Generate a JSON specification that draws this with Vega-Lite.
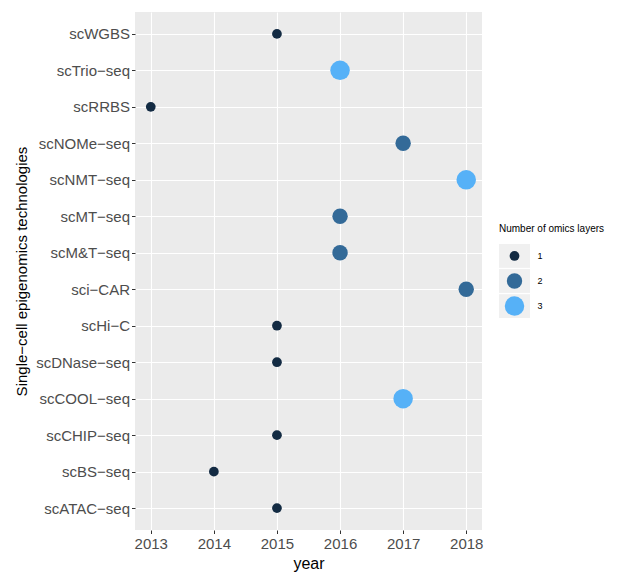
{
  "$schema": "https://vega.github.io/schema/vega-lite/v6.json",
  "background": "white",
  "padding": {"left": 14, "top": 12, "right": 5, "bottom": 6},
  "spacing": 17,
  "center": true,
  "bounds": "flush",
  "config": {
    "font": "Liberation Sans",
    "view": {"fill": "#ebebeb", "stroke": null},
    "axis": {
      "domain": false,
      "labelFont": "Liberation Sans",
      "labelFontSize": 15,
      "labelColor": "#4d4d4d",
      "tickColor": "#333333",
      "tickSize": 3.5,
      "tickWidth": 1,
      "labelPadding": 2,
      "grid": true,
      "gridColor": "#ffffff",
      "gridWidth": 1.1,
      "titleFont": "Liberation Sans",
      "titleFontSize": 15,
      "titleFontWeight": "normal",
      "titleColor": "#000000"
    }
  },
  "hconcat": [
    {
      "width": 347,
      "height": 518,
      "data": {
        "values": [
          {"tech": "scWGBS", "year": 2015, "layers": 1},
          {"tech": "scTrio−seq", "year": 2016, "layers": 3},
          {"tech": "scRRBS", "year": 2013, "layers": 1},
          {"tech": "scNOMe−seq", "year": 2017, "layers": 2},
          {"tech": "scNMT−seq", "year": 2018, "layers": 3},
          {"tech": "scMT−seq", "year": 2016, "layers": 2},
          {"tech": "scM&T−seq", "year": 2016, "layers": 2},
          {"tech": "sci−CAR", "year": 2018, "layers": 2},
          {"tech": "scHi−C", "year": 2015, "layers": 1},
          {"tech": "scDNase−seq", "year": 2015, "layers": 1},
          {"tech": "scCOOL−seq", "year": 2017, "layers": 3},
          {"tech": "scCHIP−seq", "year": 2015, "layers": 1},
          {"tech": "scBS−seq", "year": 2014, "layers": 1},
          {"tech": "scATAC−seq", "year": 2015, "layers": 1}
        ]
      },
      "mark": {"type": "point", "filled": true, "opacity": 1, "strokeWidth": 0},
      "encoding": {
        "x": {
          "field": "year",
          "type": "quantitative",
          "title": "year",
          "scale": {"domain": [2012.75, 2018.25], "nice": false, "zero": false},
          "axis": {
            "values": [2013, 2013.5, 2014, 2014.5, 2015, 2015.5, 2016, 2016.5, 2017, 2017.5, 2018],
            "format": "d",
            "labelExpr": "datum.value % 1 === 0 ? datum.label : ''",
            "gridWidth": {"condition": {"test": "datum.value % 1 === 0", "value": 1.1}, "value": 0.7},
            "tickOpacity": {"condition": {"test": "datum.value % 1 === 0", "value": 1}, "value": 0},
            "labelPadding": 3,
            "titlePadding": 4,
            "titleFontSize": 16,
            "labelFlush": false
          }
        },
        "y": {
          "field": "tech",
          "type": "nominal",
          "title": "Single−cell epigenomics technologies",
          "sort": null,
          "scale": {"type": "point", "padding": 0.6},
          "axis": {"grid": true, "titlePadding": 6}
        },
        "size": {
          "field": "layers",
          "type": "ordinal",
          "scale": {"domain": [1, 2, 3], "range": [95, 380, 530]},
          "legend": null
        },
        "color": {
          "field": "layers",
          "type": "ordinal",
          "scale": {"domain": [1, 2, 3], "range": ["#132B43", "#336A98", "#56B1F7"]},
          "legend": null
        }
      }
    },
    {
      "width": 31,
      "height": 94,
      "title": {
        "text": "Number of omics layers",
        "anchor": "start",
        "fontSize": 10,
        "fontWeight": "normal",
        "font": "Liberation Sans",
        "color": "#000000",
        "offset": -10
      },
      "view": {"fill": null, "stroke": null},
      "data": {"values": [{"layers": 1}, {"layers": 2}, {"layers": 3}]},
      "encoding": {
        "y": {
          "field": "layers",
          "type": "ordinal",
          "scale": {"paddingInner": 0.05, "paddingOuter": 0.4, "align": 1},
          "axis": null
        }
      },
      "layer": [
        {"mark": {"type": "rect", "color": "#f0f0f0"}},
        {
          "mark": {"type": "point", "filled": true, "opacity": 1, "strokeWidth": 0},
          "encoding": {
            "size": {"field": "layers", "type": "ordinal", "legend": null},
            "color": {"field": "layers", "type": "ordinal", "legend": null}
          }
        },
        {
          "mark": {"type": "text", "align": "left", "baseline": "middle", "dx": 23, "fontSize": 9, "font": "Liberation Sans", "color": "#000000"},
          "encoding": {"text": {"field": "layers", "type": "ordinal"}}
        }
      ]
    }
  ]
}
